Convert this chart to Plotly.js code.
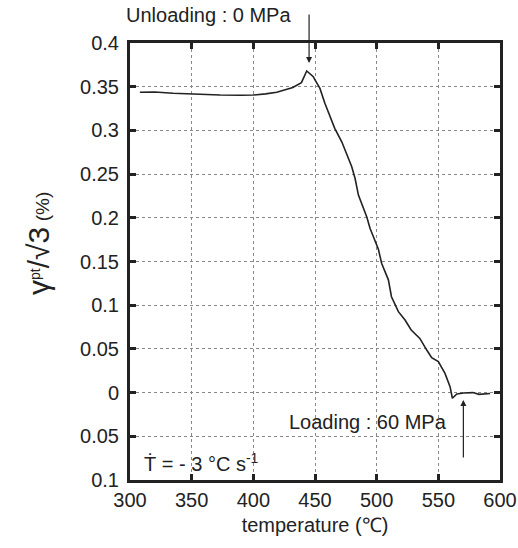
<!DOCTYPE html>
<html><head><meta charset="utf-8">
<script src="https://cdn.plot.ly/plotly-3.0.1.min.js"></script>
<style>body{margin:0;padding:0;background:#fff}#chart{width:518px;height:548px}</style>
</head><body><div id="chart"></div>
<script>
const temperature = [308, 320, 335, 350, 373, 390, 400, 410, 419, 432, 439, 443.3, 448.6, 450, 454, 458, 466, 471.7, 479.8, 482.5, 485.2, 492, 494.6, 501.4, 504, 509.5, 512, 517.6, 523, 528, 535, 540.6, 544.6, 550, 555.4, 559.5, 561.4, 565, 570.5, 578, 583, 592];
const strain = [0.3436, 0.344, 0.3425, 0.3415, 0.3405, 0.3402, 0.3405, 0.3418, 0.3436, 0.349, 0.3546, 0.368, 0.3615, 0.3577, 0.348, 0.331, 0.3024, 0.287, 0.2585, 0.245, 0.226, 0.201, 0.188, 0.164, 0.148, 0.129, 0.1097, 0.0926, 0.083, 0.0716, 0.062, 0.0487, 0.040, 0.0354, 0.022, 0.0068, -0.0065, -0.0016, -0.0005, 0.0, -0.002, -0.001];
const xTicks = [300, 350, 400, 450, 500, 550, 600];
const yTicks = [-0.1, -0.05, 0, 0.05, 0.1, 0.15, 0.2, 0.25, 0.3, 0.35, 0.4];
const yTickText = ["0.1", "0.05", "0", "0.05", "0.1", "0.15", "0.2", "0.25", "0.3", "0.35", "0.4"];

const FONT = "Liberation Sans, Arial, sans-serif";
const axisCommon = {
  showline: true, linewidth: 3, linecolor: '#222', mirror: 'ticks',
  ticks: 'inside', ticklen: 6, tickwidth: 3, tickcolor: '#222',
  showgrid: true, gridcolor: '#888', gridwidth: 1, griddash: 'dot',
  zeroline: false, tickfont: {family: FONT, size: 20, color: '#222'}
};
const layout = {
  width: 518, height: 548,
  margin: {l: 130, r: 18, t: 43, b: 68},
  paper_bgcolor: '#fff', plot_bgcolor: '#fff',
  showlegend: false,
  font: {family: FONT, size: 20, color: '#222'},
  xaxis: Object.assign({}, axisCommon, {
    range: [300, 600], tickvals: xTicks, ticktext: xTicks.map(String),
    title: {text: 'temperature (℃)', font: {family: FONT, size: 20, color: '#222'}, standoff: 8}
  }),
  yaxis: Object.assign({}, axisCommon, {
    range: [-0.1, 0.4], tickvals: yTicks, ticktext: yTickText, ticklabelstandoff: 4
  }),
  annotations: [
    {x: -0.249, y: 0.542, xref: 'paper', yref: 'paper', xanchor: 'center', yanchor: 'middle', textangle: -90, showarrow: false,
     text: '<span style="font-size:30px">γ</span><sup>pt</sup><span style="font-size:30px">/√3</span> <span style="font-size:19px">(%)</span>',
     font: {family: FONT, size: 20, color: '#222'}},
    {x: 445.2, y: 0.377, xref: 'x', yref: 'y', text: '', showarrow: true, arrowhead: 2, arrowsize: 1, arrowwidth: 1.2, arrowcolor: '#222', ax: 0, ay: -50},
    {x: 0.212, y: 1.064, xref: 'paper', yref: 'paper', xanchor: 'center', yanchor: 'middle', text: 'Unloading : 0 MPa', showarrow: false, font: {family: FONT, size: 20, color: '#222'}},
    {x: 570.3, y: -0.0085, xref: 'x', yref: 'y', text: '', showarrow: true, arrowhead: 2, arrowsize: 1, arrowwidth: 1.2, arrowcolor: '#222', ax: 0, ay: 59},
    {x: 493, y: -0.0336, xref: 'x', yref: 'y', text: 'Loading : 60 MPa', showarrow: false, font: {family: FONT, size: 20, color: '#222'}},
    {x: 309.4, y: -0.0794, xref: 'x', yref: 'y', xanchor: 'left', text: 'Ṫ = - 3 °C s<sup>-1</sup>', showarrow: false, font: {family: FONT, size: 20, color: '#222'}}
  ]
};
Plotly.newPlot('chart', [{
  x: temperature, y: strain, type: 'scatter', mode: 'lines',
  line: {color: '#222', width: 1.6}
}], layout, {staticPlot: true});
</script></body></html>
